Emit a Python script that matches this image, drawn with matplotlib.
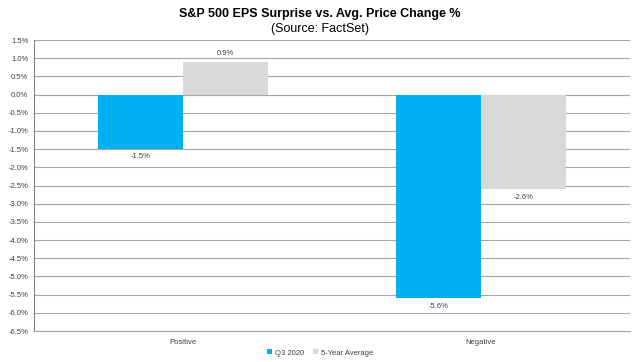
import numpy as np
import matplotlib
matplotlib.use('Agg')
import matplotlib.pyplot as plt
from matplotlib.ticker import FuncFormatter, MultipleLocator

plt.rcParams['font.family'] = ['Liberation Sans', 'DejaVu Sans']

# Data
categories = ['Positive', 'Negative']
q3_2020 = [-1.5, -5.6]
five_year_avg = [0.9, -2.6]
series_names = ['Q3 2020', '5-Year Average']
colors = ['#00B0F0', '#D9D9D9']

fig = plt.figure(figsize=(6.4, 3.62), dpi=100)
ax = fig.add_axes([0.053, 0.0856, 0.931, 0.8039])

x = np.arange(len(categories))
w = 0.285
b1 = ax.bar(x - w / 2, q3_2020, w, color=colors[0], label=series_names[0], zorder=3)
b2 = ax.bar(x + w / 2, five_year_avg, w, color=colors[1], label=series_names[1], zorder=3)

# value labels above/below bars
for bars in (b1, b2):
    for bar in bars:
        v = bar.get_height()
        cx = bar.get_x() + bar.get_width() / 2
        if v >= 0:
            ax.text(cx, v + 0.12, f'{v:.1f}%', ha='center', va='bottom', fontsize=5.5, color='#404040')
        else:
            ax.text(cx, v - 0.12, f'{v:.1f}%', ha='center', va='top', fontsize=5.5, color='#404040')

ax.set_xlim(-0.5, 1.5)
ax.set_ylim(-6.5, 1.5)
ax.yaxis.set_major_locator(MultipleLocator(0.5))
ax.yaxis.set_major_formatter(FuncFormatter(lambda v, p: f'{v:.1f}%'))
ax.set_xticks(x)
ax.set_xticklabels(categories)
ax.tick_params(axis='both', labelsize=5.5, labelcolor='#404040', length=0)
ax.tick_params(axis='y', pad=4)
ax.tick_params(axis='x', pad=6)
ax.grid(axis='y', color='#A6A6A6', linewidth=0.8, zorder=0)
for s in ['top', 'right']:
    ax.spines[s].set_visible(False)
ax.spines['left'].set_color('#808080')
ax.spines['bottom'].set_color('#A6A6A6')
ax.axhline(0, color='#C0C0C0', linewidth=0.8, zorder=1)

fig.text(0.5, 0.962, 'S&P 500 EPS Surprise vs. Avg. Price Change %', ha='center', va='center',
         fontsize=9, fontweight='bold')
fig.text(0.5, 0.92, '(Source: FactSet)', ha='center', va='center', fontsize=9)

fig.legend(loc='center', bbox_to_anchor=(0.5, 0.025), ncol=2, frameon=False, fontsize=5.5,
           handlelength=0.6, handleheight=0.6, handletextpad=0.4, columnspacing=1.2,
           labelcolor='#404040')

fig.savefig('out.png', dpi=100)
